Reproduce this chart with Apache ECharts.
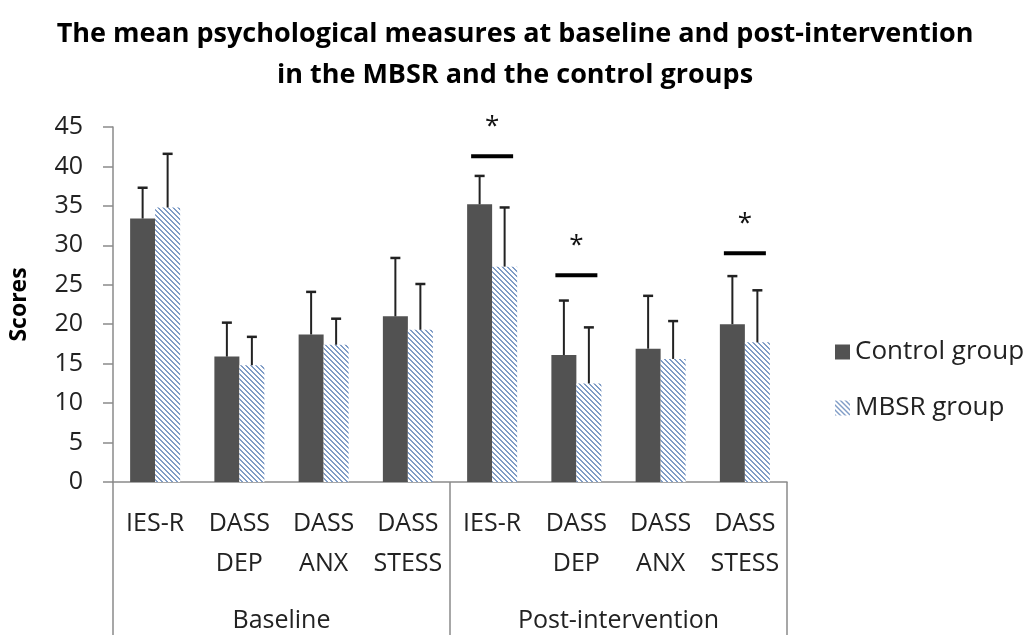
<!DOCTYPE html>
<html>
<head>
<meta charset="utf-8">
<script src="https://cdn.jsdelivr.net/npm/echarts@6/dist/echarts.min.js"></script>
<style>
  html, body { margin: 0; padding: 0; background: #fff; }
  #chart { width: 1030px; height: 635px; }
</style>
</head>
<body>
<div id="chart"></div>
<script>
// measures, repeated for baseline and post-intervention
const categories = ['IES-R', 'DASS\nDEP', 'DASS\nANX', 'DASS\nSTESS', 'IES-R', 'DASS\nDEP', 'DASS\nANX', 'DASS\nSTESS']
const phases = ['Baseline', 'Post-intervention']
const controlMean = [33.4, 15.9, 18.7, 21.0, 35.2, 16.1, 16.9, 20.0]
const controlErr = [3.9, 4.3, 5.4, 7.4, 3.6, 6.9, 6.7, 6.1]
const mbsrMean = [34.8, 14.8, 17.4, 19.3, 27.3, 12.5, 15.6, 17.7]
const mbsrErr = [6.8, 3.6, 3.3, 5.8, 7.5, 7.1, 4.8, 6.6]
// significant differences (category index, height of the bar line)
const sigCats = [4, 5, 7]
const sigLevel = [41.3, 26.2, 29.0]

const FONT = '"Open Sans", "Noto Sans", sans-serif'
const BAR_W = 25

// light blue diagonal hatch for the MBSR bars
function makeHatch() {
  const s = 5
  const c = document.createElement('canvas')
  c.width = s
  c.height = s
  const ctx = c.getContext('2d')
  ctx.fillStyle = '#ffffff'
  ctx.fillRect(0, 0, s, s)
  ctx.fillStyle = '#7f9cc6'
  for (let x = 0; x < s; x++) {
    for (let y = 0; y < s; y++) {
      if (((x - y) % s + s) % s < 2) ctx.fillRect(x, y, 1, 1)
    }
  }
  return c
}
const hatch = { image: makeHatch(), repeat: 'repeat' }

function errorBars(means, errs, shift) {
  return {
    type: 'custom',
    silent: true,
    z: 5,
    data: means.map((m, i) => [i, m, m + errs[i]]),
    renderItem: function (params, api) {
      const lo = api.coord([api.value(0), api.value(1)])
      const hi = api.coord([api.value(0), api.value(2)])
      const x = lo[0] + shift
      return {
        type: 'group',
        children: [
          { type: 'line', shape: { x1: x, y1: lo[1], x2: x, y2: hi[1] }, style: { stroke: '#222', lineWidth: 2 } },
          { type: 'line', shape: { x1: x - 5, y1: hi[1], x2: x + 5, y2: hi[1] }, style: { stroke: '#222', lineWidth: 2.5 } }
        ]
      }
    }
  }
}

const chart = echarts.init(document.getElementById('chart'), null, { renderer: 'canvas' })

const option = {
  animation: false,
  backgroundColor: '#fff',
  title: {
    text: 'The mean psychological measures at baseline and post-intervention\nin the MBSR and the control groups',
    left: 'center',
    top: 9,
    textStyle: { fontFamily: FONT, fontSize: 27, fontWeight: 'bold', color: '#000', lineHeight: 41 }
  },
  legend: {
    orient: 'vertical',
    left: 830,
    top: 334,
    itemWidth: 15,
    itemHeight: 15,
    itemGap: 30,
    icon: 'rect',
    textStyle: { fontFamily: FONT, fontSize: 26, color: '#222' },
    data: ['Control group', 'MBSR group']
  },
  grid: { left: 107, right: 243, top: 127, bottom: 153 },
  xAxis: [
    {
      type: 'category',
      data: categories,
      axisLine: { lineStyle: { color: '#8a8a8a', width: 1.5 } },
      axisTick: { show: false },
      axisLabel: { interval: 0, margin: 22, fontFamily: FONT, fontSize: 25, color: '#222', lineHeight: 40 }
    },
    {
      type: 'category',
      data: phases,
      position: 'bottom',
      axisLine: { show: false },
      axisTick: { show: true, length: 160, lineStyle: { color: '#8a8a8a', width: 1.5 } },
      axisLabel: { margin: 126, fontFamily: FONT, fontSize: 25, color: '#222' }
    }
  ],
  yAxis: {
    type: 'value',
    min: 0,
    max: 45,
    interval: 5,
    name: 'Scores',
    nameLocation: 'middle',
    nameRotate: 90,
    nameGap: 82,
    nameTextStyle: { fontFamily: FONT, fontSize: 23, fontWeight: 'bold', color: '#000' },
    axisLine: { show: true, lineStyle: { color: '#8a8a8a', width: 1.5 } },
    axisTick: { show: true, length: 10, lineStyle: { color: '#8a8a8a', width: 1.5 } },
    splitLine: { show: false },
    axisLabel: { margin: 30, fontFamily: FONT, fontSize: 25, color: '#222' }
  },
  series: [
    {
      name: 'Control group',
      type: 'bar',
      data: controlMean,
      barWidth: BAR_W,
      barGap: '0%',
      itemStyle: { color: '#525252' }
    },
    {
      name: 'MBSR group',
      type: 'bar',
      data: mbsrMean,
      barWidth: BAR_W,
      itemStyle: { color: hatch }
    },
    errorBars(controlMean, controlErr, -BAR_W / 2),
    errorBars(mbsrMean, mbsrErr, BAR_W / 2),
    {
      type: 'custom',
      silent: true,
      z: 6,
      data: sigCats.map((c, i) => [c, sigLevel[i]]),
      renderItem: function (params, api) {
        const p = api.coord([api.value(0), api.value(1)])
        return {
          type: 'group',
          children: [
            { type: 'line', shape: { x1: p[0] - 21, y1: p[1], x2: p[0] + 21, y2: p[1] }, style: { stroke: '#000', lineWidth: 4 } },
            { type: 'text', x: p[0], y: p[1] - 30, style: { text: '*', fontSize: 26, fontFamily: FONT, fill: '#111', align: 'center', verticalAlign: 'middle' } }
          ]
        }
      }
    }
  ]
}

chart.setOption(option)
</script>
</body>
</html>
